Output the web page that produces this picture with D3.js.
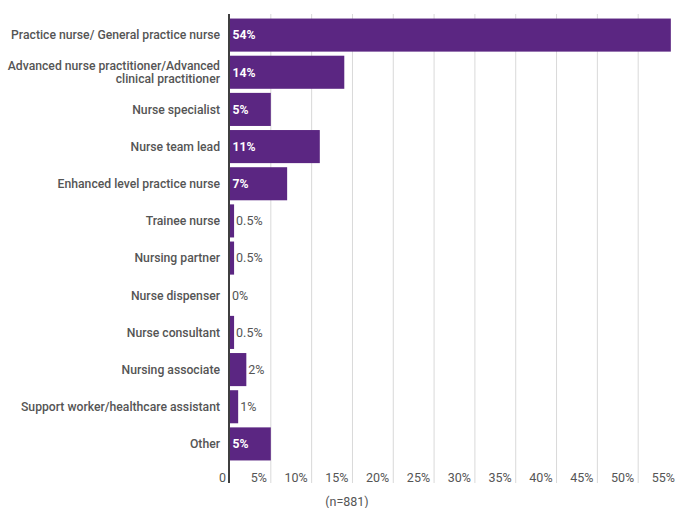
<!DOCTYPE html>
<html>
<head>
<meta charset="utf-8">
<script src="https://cdn.jsdelivr.net/npm/d3@7"></script>
<style>
  html, body { margin: 0; padding: 0; background: #fff; }
  svg { display: block; font-family: Roboto, "Noto Sans", sans-serif; }
</style>
</head>
<body>
<svg id="chart" width="675" height="508"></svg>
<script>
// Nursing roles and share of respondents (%)
const categories = [
  "Practice nurse/ General practice nurse",
  "Advanced nurse practitioner/Advanced\nclinical practitioner",
  "Nurse specialist",
  "Nurse team lead",
  "Enhanced level practice nurse",
  "Trainee nurse",
  "Nursing partner",
  "Nurse dispenser",
  "Nurse consultant",
  "Nursing associate",
  "Support worker/healthcare assistant",
  "Other"
];
const values = [54, 14, 5, 11, 7, 0.5, 0.5, 0, 0.5, 2, 1, 5];
const valueLabels = ["54%", "14%", "5%", "11%", "7%", "0.5%", "0.5%", "0%", "0.5%", "2%", "1%", "5%"];
const tickValues = [0, 5, 10, 15, 20, 25, 30, 35, 40, 45, 50, 55];
const note = "(n=881)";

const svg = d3.select("#chart");
const plotLeft = 230, plotRight = 679, plotTop = 14, plotBottom = 483;
const barTop = 16.5, barBottom = 462.5;

const x = d3.scaleLinear().domain([0, 55]).range([plotLeft, plotRight]);
const y = d3.scaleBand().domain(categories).range([barTop, barBottom]).paddingInner(0.11).paddingOuter(0.055);

const purple = "#5B2682";
const textColor = "#555555";

// vertical gridlines
svg.append("g").selectAll("line")
  .data(tickValues.filter(d => d > 0))
  .join("line")
  .attr("x1", d => x(d)).attr("x2", d => x(d))
  .attr("y1", plotTop).attr("y2", plotBottom)
  .attr("stroke", "#d9d9d9").attr("stroke-width", 1);

// bars
svg.append("g").selectAll("rect")
  .data(categories)
  .join("rect")
  .attr("x", x(0))
  .attr("y", d => y(d))
  .attr("width", (d, i) => x(values[i]) - x(0))
  .attr("height", y.bandwidth())
  .attr("fill", purple);

// zero axis line
svg.append("line")
  .attr("x1", x(0) - 1).attr("x2", x(0) - 1)
  .attr("y1", plotTop).attr("y2", plotBottom)
  .attr("stroke", "#3f3f3f").attr("stroke-width", 2);

// category labels
const catG = svg.append("g");
categories.forEach((c, i) => {
  const lines = c.split("\n");
  const cy = y(c) + y.bandwidth() / 2;
  const t = catG.append("text")
    .attr("x", 220)
    .attr("text-anchor", "end")
    .attr("font-size", 12.2)
    .attr("font-weight", 500)
    .attr("fill", textColor);
  lines.forEach((ln, k) => {
    t.append("tspan")
      .attr("x", 220)
      .attr("y", cy + (k - (lines.length - 1) / 2) * 13.5)
      .attr("dy", "0.35em")
      .text(ln);
  });
});

// value labels: inside in white where the bar is wide enough, otherwise just after the bar
svg.append("g").selectAll("text")
  .data(categories)
  .join("text")
  .each(function(d, i) {
    const w = x(values[i]) - x(0);
    const inside = w >= 30;
    d3.select(this)
      .attr("x", inside ? x(0) + 2.5 : x(values[i]) + 2)
      .attr("y", y(d) + y.bandwidth() / 2)
      .attr("dy", "0.35em")
      .attr("font-size", inside ? 12.2 : 12.5)
      .attr("font-weight", inside ? 700 : 400)
      .attr("fill", inside ? "#ffffff" : textColor)
      .text(valueLabels[i]);
  });

// x axis tick labels
const axis = d3.axisBottom(x).tickValues(tickValues).tickSize(0)
  .tickFormat(d => d === 0 ? "0" : d + "%");
const ax = svg.append("g").attr("transform", `translate(0, 470)`).call(axis);
ax.select(".domain").remove();
ax.selectAll("text")
  .attr("text-anchor", "end")
  .attr("x", -4.5)
  .attr("dy", "0.71em")
  .attr("font-size", 12.5)
  .attr("font-weight", 400)
  .attr("font-family", "Roboto, sans-serif")
  .attr("fill", textColor);

// sample size note
svg.append("text")
  .attr("x", 347).attr("y", 502)
  .attr("text-anchor", "middle")
  .attr("dy", "0.35em")
  .attr("font-size", 12.5)
  .attr("fill", textColor)
  .text(note);
</script>
</body>
</html>
